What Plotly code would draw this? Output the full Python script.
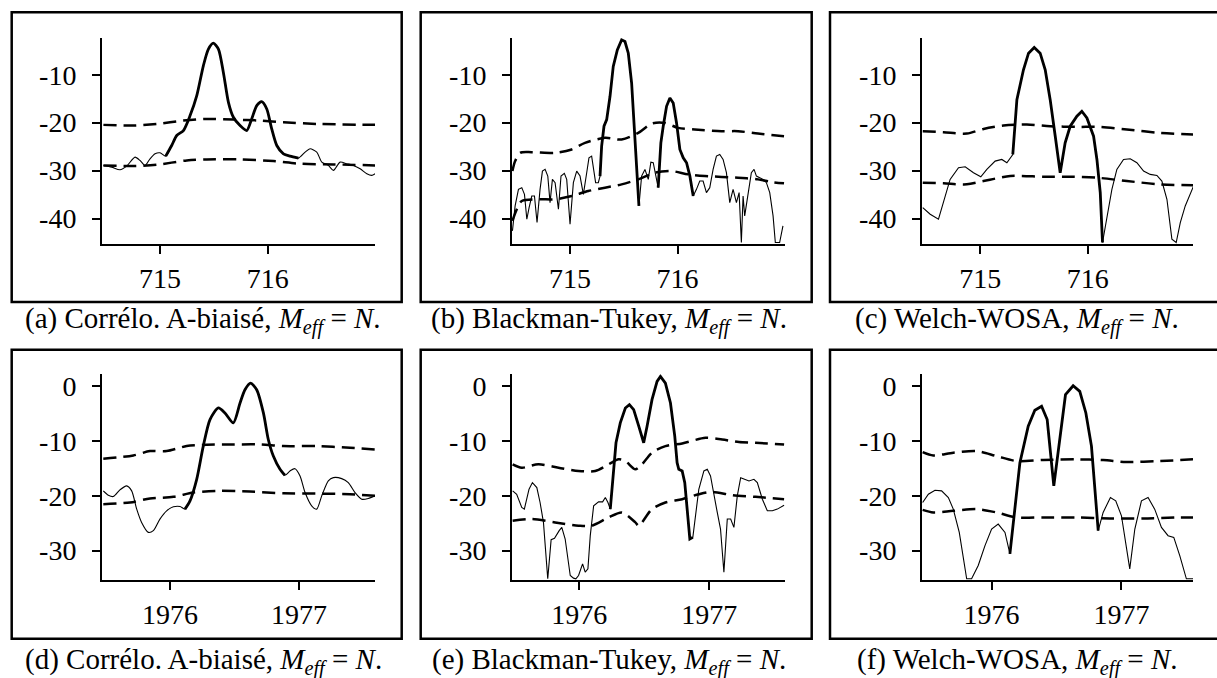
import plotly.graph_objects as go

W, H = 1217, 678

# ---------------- Panel (a) : Corrélo. A-biaisé, 715-716 ----------------
a_x = [714.474, 714.551, 714.628, 714.690, 714.768, 714.814, 714.861, 714.907, 714.954, 715.0,
       715.053, 715.108, 715.155, 715.217, 715.279, 715.341, 715.402, 715.449, 715.495, 715.542,
       715.588, 715.635, 715.681, 715.743, 715.805, 715.851, 715.898, 715.944, 715.991, 716.037,
       716.084, 716.146, 716.207, 716.285, 716.347, 716.393, 716.455, 716.502, 716.563, 716.610,
       716.672, 716.734, 716.796, 716.858, 716.920, 716.966, 716.997]
a_y = [-28.92, -29.27, -29.82, -29.06, -27.19, -27.88, -28.92, -27.53, -26.49, -26.29,
       -26.98, -24.76, -22.68, -21.64, -18.52, -14.37, -8.13, -4.66, -3.42, -4.66,
       -9.51, -15.75, -18.87, -20.60, -21.64, -19.22, -16.44, -15.61, -17.14, -21.30,
       -24.76, -26.49, -26.98, -27.39, -26.15, -25.45, -26.15, -28.23, -28.92, -29.96,
       -28.23, -28.57, -28.92, -29.61, -30.65, -31.00, -30.65]
a_up_x = [714.474, 714.752, 714.969, 715.217, 715.433, 715.681, 715.929, 716.146, 716.455, 716.997]
a_up_y = [-20.46, -20.60, -20.26, -19.56, -19.22, -19.36, -19.56, -19.91, -20.26, -20.46]
a_lo_x = [714.474, 714.752, 714.969, 715.248, 715.433, 715.743, 716.053, 716.300, 716.610, 716.997]
a_lo_y = [-28.92, -29.06, -28.78, -27.88, -27.67, -27.67, -28.02, -28.57, -28.71, -28.92]
a_thick = [(715.053, 716.285)]

# ---------------- Panel (b) : Blackman-Tukey, 715-716 ----------------
b_x = [714.464, 714.489, 714.520, 714.551, 714.576, 714.598, 714.619, 714.644, 714.669, 714.693,
       714.721, 714.743, 714.768, 714.793, 714.814, 714.836, 714.861, 714.892, 714.916, 714.947,
       714.969, 715.0, 715.031, 715.062, 715.093, 715.124, 715.155, 715.176, 715.201, 715.217,
       715.238, 715.263, 715.279, 715.294, 715.316, 715.341, 715.372, 715.402, 715.440, 715.480,
       715.511, 715.542, 715.573, 715.598, 715.619, 715.641, 715.666, 715.697, 715.728, 715.752,
       715.774, 715.796, 715.820, 715.845, 715.867, 715.898, 715.929, 715.960, 715.991, 716.022,
       716.053, 716.084, 716.115, 716.146, 716.176, 716.207, 716.238, 716.269, 716.300, 716.331,
       716.362, 716.393, 716.424, 716.455, 716.486, 716.517, 716.548, 716.573, 716.594, 716.610,
       716.625, 716.656, 716.687, 716.712, 716.734, 716.765, 716.796, 716.827, 716.858, 716.889,
       716.910, 716.950, 716.981]
b_y = [-42.57, -37.37, -33.91, -33.56, -34.95, -40.15, -37.72, -35.29, -35.29, -40.84,
       -33.91, -30.10, -29.75, -31.14, -36.68, -31.83, -32.52, -38.07, -31.14, -30.58,
       -31.83, -41.19, -32.52, -30.10, -31.14, -34.95, -30.44, -27.33, -26.98, -29.40,
       -32.52, -32.52, -31.14, -24.90, -20.74, -19.36, -14.50, -8.27, -4.80, -2.72,
       -3.07, -5.50, -11.73, -21.43, -29.75, -37.37, -31.14, -29.75, -31.83, -28.23,
       -28.36, -31.14, -33.56, -24.21, -20.74, -16.58, -14.85, -15.89, -20.05, -25.59,
       -27.33, -28.36, -31.14, -35.29, -33.91, -32.18, -32.18, -34.60, -33.56, -29.75,
       -26.98, -26.63, -27.67, -30.44, -36.68, -33.91, -36.68, -34.60, -45.0, -35.29,
       -39.45, -35.29, -30.44, -29.75, -31.14, -31.48, -31.83, -32.52, -34.60, -39.45,
       -45.0, -45.0, -41.53]
b_up_x = [714.464, 714.489, 714.536, 714.644, 714.861, 715.015, 715.139, 715.325, 715.480, 715.635,
          715.759, 715.882, 716.006, 716.161, 716.409, 716.563, 716.749, 716.991]
b_up_y = [-30.10, -28.02, -26.29, -26.15, -26.29, -25.59, -24.21, -23.17, -23.51, -22.13,
          -20.19, -20.05, -21.09, -21.43, -21.78, -21.78, -22.27, -22.82]
b_lo_x = [714.464, 714.505, 714.551, 714.706, 714.861, 715.015, 715.170, 715.325, 715.480, 715.635,
          715.789, 715.944, 716.099, 716.254, 716.563, 716.749, 716.873, 716.991]
b_lo_y = [-40.49, -38.07, -36.33, -35.99, -35.99, -35.29, -34.26, -33.56, -32.87, -31.83,
          -30.44, -30.10, -30.79, -31.14, -31.48, -31.83, -32.38, -32.66]
b_thick = [(715.279, 715.641), (715.820, 716.146)]

# ---------------- Panel (c) : Welch-WOSA, 715-716 ----------------
c_x = [714.467, 714.536, 714.613, 714.659, 714.721, 714.799, 714.861, 714.938, 715.006, 715.062,
       715.139, 715.201, 715.248, 715.303, 715.341, 715.402, 715.449, 715.502, 715.557, 715.604,
       715.650, 715.697, 715.743, 715.789, 715.836, 715.898, 715.944, 715.991, 716.053, 716.084,
       716.115, 716.136, 716.176, 716.223, 716.269, 716.331, 716.393, 716.455, 716.517, 716.579,
       716.641, 716.687, 716.734, 716.780, 716.820, 716.858, 716.904, 716.981]
c_y = [-37.72, -39.11, -40.15, -36.68, -31.83, -29.40, -29.20, -30.44, -31.28, -29.75,
       -28.02, -27.67, -28.36, -26.63, -15.20, -8.96, -5.50, -4.32, -5.50, -8.96,
       -15.20, -22.82, -30.44, -24.21, -20.74, -18.66, -17.62, -19.01, -22.82, -27.67,
       -34.60, -45.0, -39.45, -33.91, -29.75, -27.67, -27.53, -28.36, -30.10, -30.79,
       -31.00, -32.18, -35.99, -44.30, -45.0, -40.84, -37.37, -33.22]
c_up_x = [714.467, 714.659, 714.876, 715.031, 715.217, 715.433, 715.650, 715.898, 716.115, 716.362,
          716.672, 716.981]
c_up_y = [-21.78, -21.99, -22.27, -21.30, -20.60, -20.40, -20.74, -20.88, -20.88, -21.43,
          -22.13, -22.47]
c_lo_x = [714.467, 714.659, 714.876, 715.031, 715.279, 715.588, 715.836, 716.084, 716.362, 716.672,
          716.981]
c_lo_y = [-32.52, -32.66, -32.87, -32.18, -31.14, -31.28, -31.28, -31.48, -32.18, -32.87,
          -33.08]
c_thick = [(715.303, 716.136)]

# ---------------- Panel (d) : Corrélo. A-biaisé, 1976-1977 ----------------
d_x = [1975.483, 1975.522, 1975.561, 1975.612, 1975.664, 1975.703, 1975.742, 1975.780, 1975.832, 1975.871,
       1975.922, 1975.974, 1976.026, 1976.078, 1976.116, 1976.155, 1976.207, 1976.258, 1976.310, 1976.375,
       1976.426, 1976.491, 1976.543, 1976.581, 1976.625, 1976.672, 1976.724, 1976.762, 1976.801, 1976.853,
       1976.891, 1976.930, 1976.969, 1977.008, 1977.047, 1977.098, 1977.137, 1977.176, 1977.227, 1977.266,
       1977.331, 1977.382, 1977.434, 1977.486, 1977.537, 1977.589]
d_y = [-19.09, -19.88, -20.12, -18.91, -18.18, -19.09, -22.42, -24.85, -26.67, -26.36,
       -24.24, -22.73, -22.00, -21.94, -22.42, -20.91, -16.97, -10.91, -6.06, -3.94,
       -4.85, -6.67, -3.03, -0.61, 0.61, -0.61, -4.85, -9.70, -12.73, -15.15,
       -16.24, -15.45, -15.03, -16.36, -19.39, -21.82, -22.42, -20.00, -17.27, -16.67,
       -16.85, -17.58, -19.39, -20.61, -20.48, -20.00]
d_up_x = [1975.483, 1975.716, 1975.845, 1975.974, 1976.129, 1976.284, 1976.491, 1976.698, 1976.879, 1977.137,
          1977.395, 1977.589]
d_up_y = [-13.21, -12.61, -11.82, -11.82, -10.91, -10.67, -10.61, -10.61, -10.91, -10.91,
          -11.21, -11.52]
d_lo_x = [1975.483, 1975.690, 1975.845, 1976.026, 1976.181, 1976.362, 1976.620, 1976.879, 1977.137, 1977.395,
          1977.589]
d_lo_y = [-21.52, -21.21, -20.48, -20.18, -19.39, -19.09, -19.21, -19.52, -19.58, -19.70,
          -20.00]
d_thick = [(1976.116, 1976.891)]

# ---------------- Panel (e) : Blackman-Tukey, 1976-1977 ----------------
e_x = [1975.488, 1975.519, 1975.558, 1975.578, 1975.614, 1975.640, 1975.674, 1975.699, 1975.725, 1975.758,
       1975.784, 1975.810, 1975.846, 1975.866, 1975.892, 1975.918, 1975.931, 1975.956, 1975.974, 1975.995,
       1976.026, 1976.046, 1976.067, 1976.085, 1976.111, 1976.149, 1976.180, 1976.201, 1976.221, 1976.239,
       1976.265, 1976.283, 1976.316, 1976.355, 1976.386, 1976.419, 1976.458, 1976.496, 1976.522, 1976.560,
       1976.599, 1976.625, 1976.663, 1976.702, 1976.735, 1976.753, 1976.766, 1976.792, 1976.812, 1976.830,
       1976.851, 1976.874, 1976.895, 1976.920, 1976.959, 1976.985, 1977.010, 1977.036, 1977.062, 1977.087,
       1977.113, 1977.139, 1977.165, 1977.190, 1977.216, 1977.242, 1977.280, 1977.306, 1977.344, 1977.370,
       1977.409, 1977.447, 1977.486, 1977.524, 1977.576]
e_y = [-19.09, -19.70, -22.12, -22.42, -18.79, -17.58, -18.48, -21.21, -24.85, -35.15,
       -28.00, -27.76, -26.36, -25.76, -27.88, -32.12, -34.55, -35.03, -35.15, -34.55,
       -32.42, -33.94, -33.33, -27.27, -21.82, -21.09, -21.09, -20.30, -21.21, -22.42,
       -15.15, -10.30, -6.67, -3.94, -3.33, -4.24, -7.27, -10.30, -7.27, -2.42,
       0.91, 1.82, 0.61, -3.03, -9.09, -13.94, -15.15, -15.45, -17.58, -22.42,
       -27.88, -27.58, -23.64, -18.79, -15.45, -15.15, -16.36, -20.00, -23.03, -26.06,
       -33.94, -24.24, -24.24, -25.76, -20.00, -16.67, -16.97, -17.27, -16.97, -17.58,
       -20.61, -22.73, -22.73, -22.42, -21.70]
e_up_x = [1975.488, 1975.558, 1975.686, 1975.841, 1975.995, 1976.123, 1976.226, 1976.303, 1976.355, 1976.432,
          1976.483, 1976.560, 1976.663, 1976.792, 1976.972, 1977.100, 1977.229, 1977.357, 1977.576]
e_up_y = [-14.24, -14.85, -14.24, -14.85, -15.45, -15.45, -14.24, -13.33, -13.64, -15.15,
          -14.24, -12.12, -10.91, -10.42, -9.39, -9.70, -10.18, -10.30, -10.61]
e_lo_x = [1975.488, 1975.635, 1975.815, 1975.995, 1976.098, 1976.226, 1976.329, 1976.432, 1976.458, 1976.560,
          1976.663, 1976.792, 1976.920, 1977.023, 1977.177, 1977.357, 1977.576]
e_lo_y = [-24.55, -24.24, -24.85, -25.45, -25.45, -23.94, -23.03, -24.85, -25.45, -22.42,
          -21.21, -20.61, -19.70, -19.27, -19.88, -20.18, -20.61]
e_thick = [(1976.239, 1976.874)]

# ---------------- Panel (f) : Welch-WOSA, 1976-1977 ----------------
f_x = [1975.469, 1975.513, 1975.564, 1975.615, 1975.667, 1975.705, 1975.751, 1975.808, 1975.846, 1975.897,
       1975.949, 1976.000, 1976.051, 1976.103, 1976.141, 1976.179, 1976.218, 1976.282, 1976.333, 1976.385,
       1976.428, 1976.479, 1976.526, 1976.569, 1976.628, 1976.679, 1976.726, 1976.769, 1976.821, 1976.859,
       1976.915, 1976.956, 1977.000, 1977.064, 1977.103, 1977.154, 1977.205, 1977.256, 1977.308, 1977.359,
       1977.403, 1977.449, 1977.500, 1977.551]
f_y = [-21.21, -19.70, -18.97, -19.09, -20.30, -22.42, -26.67, -35.15, -35.15, -32.73,
       -29.09, -26.06, -25.15, -26.67, -30.61, -21.82, -13.94, -7.27, -4.36, -3.64,
       -6.06, -18.18, -9.09, -1.52, 0.12, -0.91, -4.85, -10.91, -26.36, -23.03,
       -20.30, -20.91, -23.64, -33.33, -26.06, -20.91, -20.30, -22.42, -25.76, -27.27,
       -27.58, -30.91, -35.15, -35.15]
f_up_x = [1975.469, 1975.551, 1975.705, 1975.885, 1976.038, 1976.192, 1976.397, 1976.654, 1976.859, 1977.038,
          1977.295, 1977.551]
f_up_y = [-12.00, -12.61, -12.12, -11.82, -12.73, -13.64, -13.45, -13.33, -13.45, -13.82,
          -13.64, -13.33]
f_lo_x = [1975.469, 1975.551, 1975.705, 1975.885, 1976.038, 1976.192, 1976.397, 1976.654, 1976.910, 1977.167,
          1977.423, 1977.551]
f_lo_y = [-22.55, -23.03, -22.73, -22.42, -23.03, -23.94, -23.94, -23.94, -24.12, -24.12,
          -23.94, -23.94]
f_thick = [(1976.141, 1976.821)]

# ---------------- Axis ticks & captions ----------------
top_xticks = [715, 716]
top_xtext = ["715", "716"]
top_yticks = [-10, -20, -30, -40]
top_ytext = ["-10", "-20", "-30", "-40"]
bot_xticks = [1976, 1977]
bot_xtext = ["1976", "1977"]
bot_yticks = [0, -10, -20, -30]
bot_ytext = ["0", "-10", "-20", "-30"]

captions = [
    "(a) Corrélo. A-biaisé, <i>M<sub>eff</sub></i> = <i>N</i>.",
    "(b) Blackman-Tukey, <i>M<sub>eff</sub></i> = <i>N</i>.",
    "(c) Welch-WOSA, <i>M<sub>eff</sub></i> = <i>N</i>.",
    "(d) Corrélo. A-biaisé, <i>M<sub>eff</sub></i> = <i>N</i>.",
    "(e) Blackman-Tukey, <i>M<sub>eff</sub></i> = <i>N</i>.",
    "(f) Welch-WOSA, <i>M<sub>eff</sub></i> = <i>N</i>.",
]

panels = [
    (a_x, a_y, a_up_x, a_up_y, a_lo_x, a_lo_y, a_thick, "spline"),
    (b_x, b_y, b_up_x, b_up_y, b_lo_x, b_lo_y, b_thick, "linear"),
    (c_x, c_y, c_up_x, c_up_y, c_lo_x, c_lo_y, c_thick, "linear"),
    (d_x, d_y, d_up_x, d_up_y, d_lo_x, d_lo_y, d_thick, "spline"),
    (e_x, e_y, e_up_x, e_up_y, e_lo_x, e_lo_y, e_thick, "linear"),
    (f_x, f_y, f_up_x, f_up_y, f_lo_x, f_lo_y, f_thick, "linear"),
]

# layout geometry (pixels)
col_px = [(102, 375), (512, 785), (922, 1193)]
row_px = [(35, 242), (373, 580)]
x_ranges = [[714.461, 716.996], [714.46, 717.0], [714.46, 716.976],
            [1975.473, 1977.589], [1975.483, 1977.583], [1975.464, 1977.551]]
y_ranges = [[-45.3, -2.3]] * 3 + [[-35.45, 2.2]] * 3
box_x = [(11.7, 401.7), (420.7, 811.7), (830.0, 1219.0)]
box_y = [(9.3, 300.3), (348.3, 638.5)]
cap_x = [203, 609, 1017]
cap_y = [319, 661]

FONT = "Liberation Serif"

fig = go.Figure()
for i, (x, y, ux, uy, lx, ly, thick, shape) in enumerate(panels):
    k = "" if i == 0 else str(i + 1)
    xa, ya = "x" + k, "y" + k
    dash_style = dict(color="black", width=2.5, dash="13px,7px", shape="spline", smoothing=0.8)
    fig.add_trace(go.Scatter(x=ux, y=uy, mode="lines", line=dash_style, xaxis=xa, yaxis=ya,
                             showlegend=False, hoverinfo="skip"))
    fig.add_trace(go.Scatter(x=lx, y=ly, mode="lines", line=dash_style, xaxis=xa, yaxis=ya,
                             showlegend=False, hoverinfo="skip"))
    line_kw = dict(color="black", width=1.1, shape=shape)
    if shape == "spline":
        line_kw["smoothing"] = 0.7
    fig.add_trace(go.Scatter(x=x, y=y, mode="lines", line=line_kw, xaxis=xa, yaxis=ya,
                             showlegend=False, hoverinfo="skip"))
    for (t0, t1) in thick:
        tx = [xv for xv in x if t0 - 1e-6 <= xv <= t1 + 1e-6]
        ty = [yv for xv, yv in zip(x, y) if t0 - 1e-6 <= xv <= t1 + 1e-6]
        tk = dict(line_kw)
        tk["width"] = 2.8
        fig.add_trace(go.Scatter(x=tx, y=ty, mode="lines", line=tk, xaxis=xa, yaxis=ya,
                                 showlegend=False, hoverinfo="skip"))

layout = dict(
    width=W, height=H, margin=dict(l=0, r=0, t=0, b=0),
    paper_bgcolor="white", plot_bgcolor="white",
    font=dict(family=FONT, color="black", size=28),
    showlegend=False,
)
shapes = []
annotations = []
for i in range(6):
    r, c = divmod(i, 3)
    k = "" if i == 0 else str(i + 1)
    x0, x1 = col_px[c]
    yt, yb = row_px[r]
    xt = top_xticks if r == 0 else bot_xticks
    xtt = top_xtext if r == 0 else bot_xtext
    yv = top_yticks if r == 0 else bot_yticks
    yvt = top_ytext if r == 0 else bot_ytext
    layout["xaxis" + k] = dict(
        domain=[x0 / W, x1 / W], range=x_ranges[i], anchor="y" + k,
        showline=True, linecolor="black", linewidth=2, mirror=False,
        showgrid=False, zeroline=False, ticks="outside", ticklen=8, tickwidth=2,
        tickcolor="black", tickvals=xt, ticktext=xtt, ticklabelstandoff=0,
        tickfont=dict(family=FONT, size=28, color="black"), fixedrange=True,
    )
    layout["yaxis" + k] = dict(
        domain=[1 - yb / H, 1 - yt / H], range=y_ranges[i], anchor="x" + k,
        showline=True, linecolor="black", linewidth=2, mirror=False,
        showgrid=False, zeroline=False, ticks="outside", ticklen=8, tickwidth=2,
        tickcolor="black", tickvals=yv, ticktext=yvt, ticklabelstandoff=10,
        tickfont=dict(family=FONT, size=28, color="black"), fixedrange=True,
    )
    bx0, bx1 = box_x[c]
    by0, by1 = box_y[r]
    shapes.append(dict(type="rect", xref="paper", yref="paper",
                       x0=bx0 / W, x1=bx1 / W, y0=1 - by1 / H, y1=1 - by0 / H,
                       line=dict(color="black", width=2.5), fillcolor="rgba(0,0,0,0)", layer="above"))
    annotations.append(dict(text=captions[i], xref="paper", yref="paper",
                            x=cap_x[c] / W, y=1 - cap_y[r] / H, xanchor="center", yanchor="middle",
                            showarrow=False, font=dict(family=FONT, size=29, color="black")))
layout["shapes"] = shapes
layout["annotations"] = annotations
fig.update_layout(**layout)

fig.write_html("out.html", config={"displayModeBar": False, "staticPlot": True},
               post_script="document.body.style.margin='0';document.body.style.overflow='hidden';")
